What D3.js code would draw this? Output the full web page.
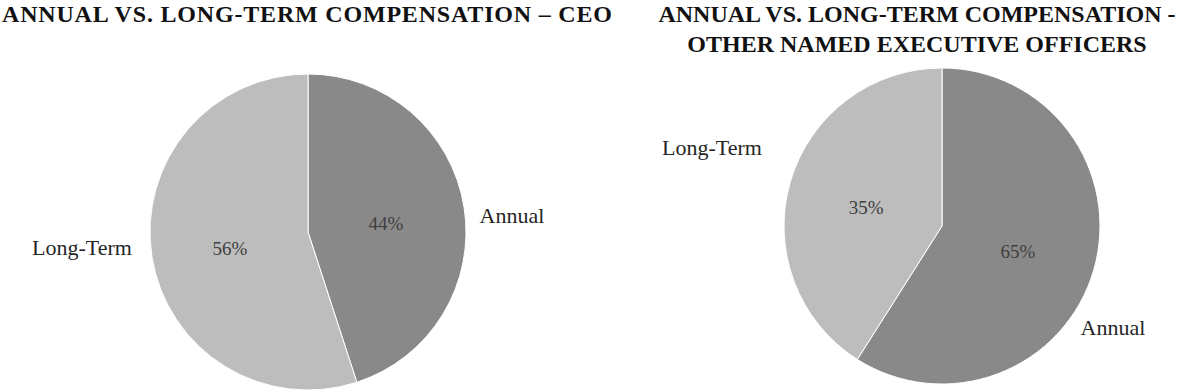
<!DOCTYPE html>
<html>
<head>
<meta charset="utf-8">
<script src="https://cdn.jsdelivr.net/npm/d3@7"></script>
<style>
  html, body { margin: 0; padding: 0; background: #ffffff; }
  svg { display: block; }
</style>
</head>
<body>
<svg id="chart" width="1182" height="392"></svg>
<script>
// ---- data ----
const categories = ["Annual", "Long-Term"];
// slice shares as drawn in the picture
const ceoShares = [45, 55];
const nedShares = [59, 41];
// printed percentage labels
const ceoPctLabels = ["44%", "56%"];
const nedPctLabels = ["65%", "35%"];
const ceoTitle = ["ANNUAL VS. LONG-TERM COMPENSATION \u2013 CEO"];
const nedTitle = ["ANNUAL VS. LONG-TERM COMPENSATION -", "OTHER NAMED EXECUTIVE OFFICERS"];

// ---- layout ----
const colors = d3.scaleOrdinal().domain(categories).range(["#898989", "#bdbdbd"]);
const serif = "'Liberation Serif', 'Times New Roman', serif";
const svg = d3.select("#chart");

const charts = [
  { shares: ceoShares, pct: ceoPctLabels, title: ceoTitle, cx: 308, cy: 232, r: 158,
    titleX: 307, titleY: 22, titleWidth: 610,
    catPos: [{dx: 204, dy: -17}, {dx: -226, dy: 15}] },
  { shares: nedShares, pct: nedPctLabels, title: nedTitle, cx: 942, cy: 226, r: 158,
    titleX: 917, titleY: 22, titleWidth: null,
    catPos: [{dx: 171, dy: 101}, {dx: -230, dy: -79}] }
];

const pie = d3.pie().sort(null).value(d => d.value).startAngle(0).endAngle(2 * Math.PI);

charts.forEach(c => {
  const data = categories.map((k, i) => ({ key: k, value: c.shares[i], pct: c.pct[i] }));
  const arcs = pie(data);
  const arc = d3.arc().innerRadius(0).outerRadius(c.r);
  const labelArc = d3.arc().innerRadius(c.r * 0.5).outerRadius(c.r * 0.5);

  const g = svg.append("g").attr("transform", `translate(${c.cx},${c.cy})`);
  g.selectAll("path").data(arcs).join("path")
    .attr("d", arc)
    .attr("fill", d => colors(d.data.key))
    .attr("stroke", "#ffffff")
    .attr("stroke-width", 1);

  g.selectAll("text.pct").data(arcs).join("text")
    .attr("class", "pct")
    .attr("transform", d => `translate(${labelArc.centroid(d)})`)
    .attr("text-anchor", "middle")
    .attr("dy", "0.55em")
    .attr("font-family", serif)
    .attr("font-size", 19)
    .attr("fill", "#404040")
    .text(d => d.data.pct);

  g.selectAll("text.cat").data(arcs).join("text")
    .attr("class", "cat")
    .attr("x", (d, i) => c.catPos[i].dx)
    .attr("y", (d, i) => c.catPos[i].dy)
    .attr("text-anchor", "middle")
    .attr("dy", "0.35em")
    .attr("font-family", serif)
    .attr("font-size", 22)
    .attr("fill", "#262626")
    .text(d => d.data.key);

  const t = svg.append("text")
    .attr("x", c.titleX)
    .attr("y", c.titleY)
    .attr("text-anchor", "middle")
    .attr("font-family", serif)
    .attr("font-weight", "bold")
    .attr("font-size", 24)
    .attr("fill", "#111111");
  t.selectAll("tspan").data(c.title).join("tspan")
    .attr("x", c.titleX)
    .attr("dy", (d, i) => i === 0 ? 0 : 30)
    .text(d => d);
  if (c.titleWidth) {
    t.attr("textLength", c.titleWidth).attr("lengthAdjust", "spacing");
    t.select("tspan").attr("textLength", c.titleWidth).attr("lengthAdjust", "spacing");
  }
});
</script>
</body>
</html>
